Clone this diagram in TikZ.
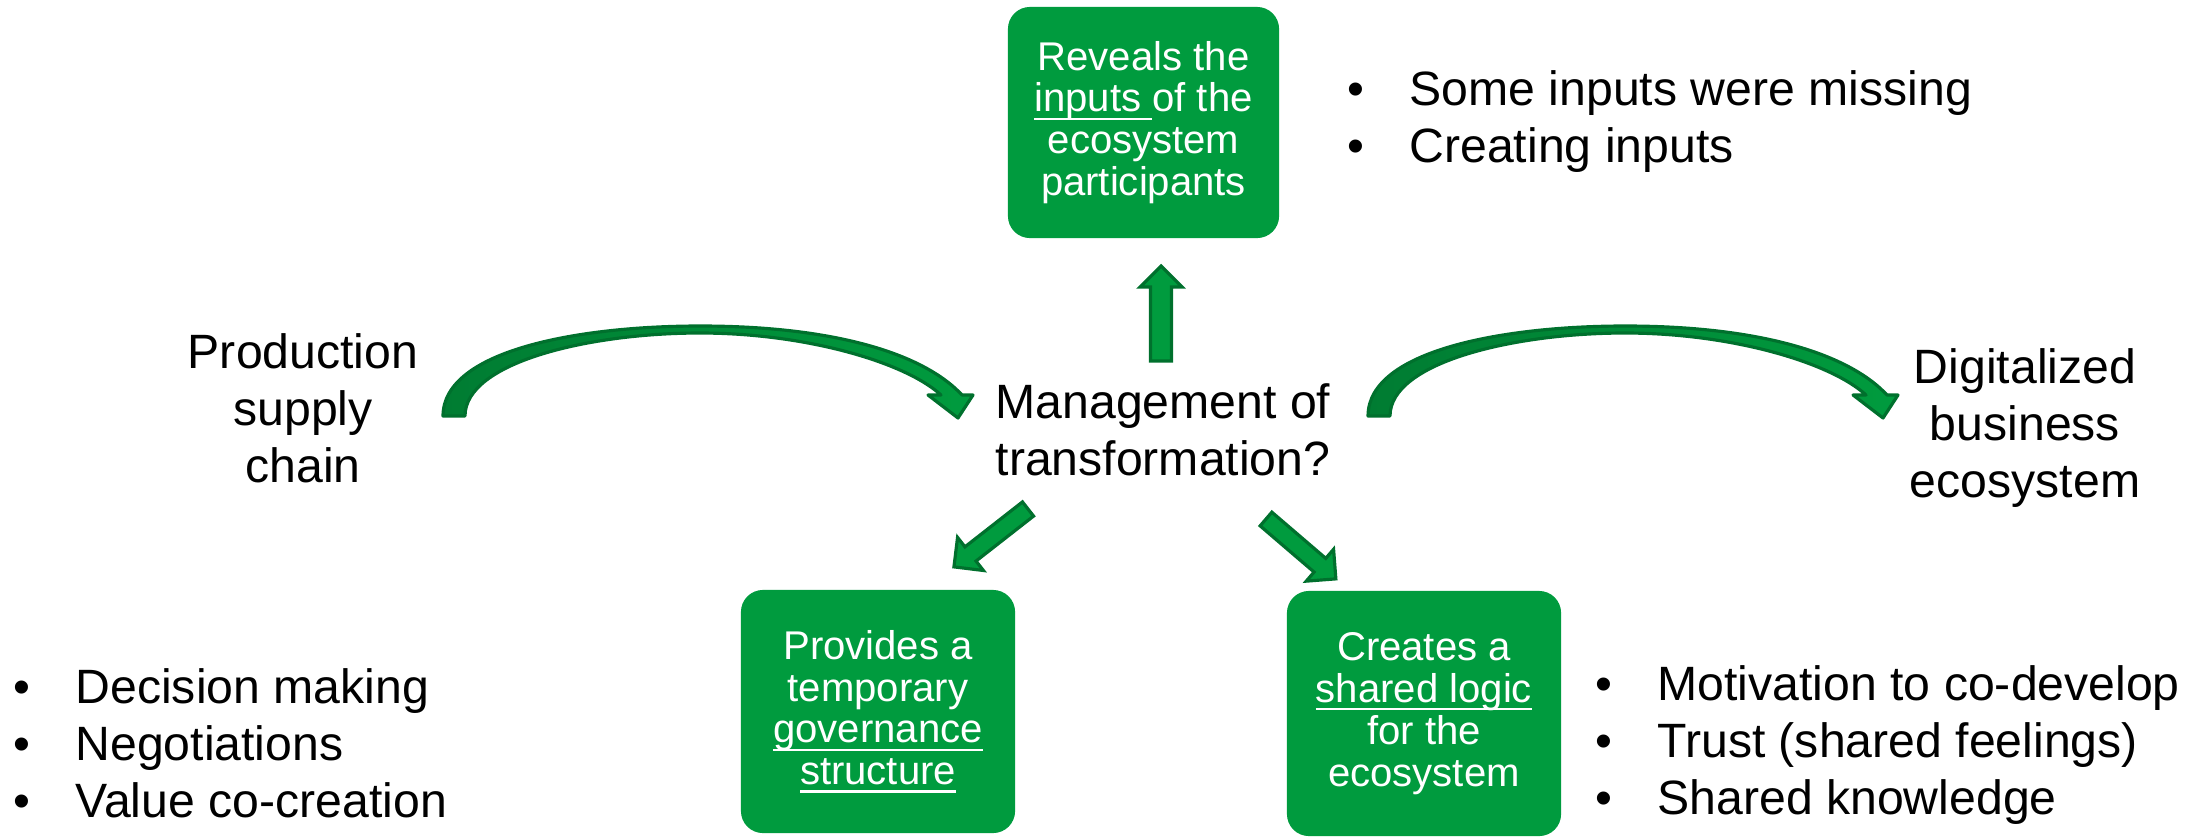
\documentclass[tikz,border=0pt]{standalone}
\usepackage{fontspec}
\setmainfont{Liberation Sans}
\usetikzlibrary{positioning}
\definecolor{boxgreen}{RGB}{0,155,62}
\definecolor{arrowdark}{RGB}{0,112,45}
\definecolor{arrowmid}{RGB}{0,124,50}
\tikzset{
  txt/.style={font=\fontsize{13.7}{16.2}\selectfont, align=center, inner sep=0pt},
  bullets/.style={font=\fontsize{13.7}{16.2}\selectfont, align=left, anchor=north west, inner sep=0pt},
  greenbox/.style={fill=boxgreen, rounded corners=0.22cm, text=white, align=center,
    font=\fontsize{11.4}{11.9}\selectfont, inner sep=0pt},
  blockarr/.style={draw=arrowdark, fill=boxgreen, line width=0.9pt, line join=miter},
  curvearr/.style={draw=arrowdark, line width=0.9pt, line join=round, left color=arrowmid, right color=boxgreen}
}
\newcommand{\bul}{\makebox[17.6pt][l]{\textbullet}}
\newsavebox{\ulbox}
\newcommand{\uln}[1]{\sbox{\ulbox}{#1}\rlap{\rule[-0.2em]{\wd\ulbox}{0.06em}}\usebox{\ulbox}}
% #1 tail, #2 angle, #3 length, #4 half shaft
\newcommand{\blockarrow}[4]{%
  \draw[blockarr, shift={#1}, rotate=#2] (0,-#4) -- (#3-21,-#4) -- (#3-21,-21) -- (#3,0)
    -- (#3-21,21) -- (#3-21,#4) -- (0,#4) -- cycle;}
\begin{document}
\begin{tikzpicture}[x=0.01cm,y=-0.01cm]
    \useasboundingbox (0,0) rectangle (2189,839);
    %% boxes
    \node[greenbox, minimum width=2.71cm, minimum height=2.31cm] (inputs) at (1143.5,122.5)
        {Reveals the\\\uln{inputs }of the\\ecosystem\\participants};
    \node[greenbox, minimum width=2.74cm, minimum height=2.43cm] (governance) at (878,711.5)
        {Provides a\\temporary\\\uln{governance}\\\uln{structure}};
    \node[greenbox, minimum width=2.74cm, minimum height=2.45cm] (logic) at (1424,713.5)
        {Creates a\\\uln{shared logic}\\for the\\ecosystem};
    %% labels
    \node[txt] (supply) at (303,408) {Production\\supply\\chain};
    \node[txt] (management) at (1163,430) {Management of\\transformation?};
    \node[txt] (digital) at (2025,428) {Digitalized\\business\\ecosystem};
    %% bullet lists
    \node[bullets] (inputlist) at (1347,70) {\bul Some inputs were missing\\\bul Creating inputs};
    \node[bullets] (govlist) at (13,668) {\bul Decision making\\\bul Negotiations\\\bul Value co-creation};
    \node[bullets] (logiclist) at (1595,665) {\bul Motivation to co-develop\\\bul Trust (shared feelings)\\\bul Shared knowledge};
    %% curved arrows
    \foreach \dx in {0,925} {
      \draw[curvearr, shift={(\dx,0)}] (443,416) .. controls (443,350) and (580,326) .. (700,326)
          .. controls (830,326) and (922,352) .. (962,395) -- (973,395) -- (958,418) -- (928,395)
          -- (941,395) .. controls (905,362) and (805,333) .. (700,333)
          .. controls (590,333) and (465,362) .. (465,416) -- cycle;
    }
    %% straight arrows
    \blockarrow{(1161,361)}{90}{95}{10.5}
    \blockarrow{(1028,509)}{218}{94}{9}
    \blockarrow{(1266,519)}{-40.6}{92}{9}
\end{tikzpicture}
\end{document}
